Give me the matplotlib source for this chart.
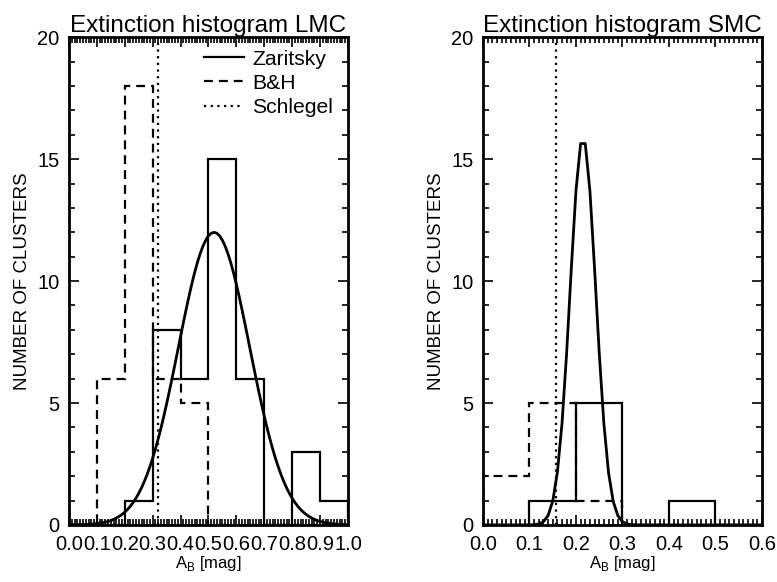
import numpy as np
import matplotlib
matplotlib.use('Agg')
import matplotlib.pyplot as plt
from matplotlib.ticker import MultipleLocator, FormatStrFormatter

plt.rcParams['font.family'] = ['Liberation Sans', 'DejaVu Sans']
plt.rcParams['mathtext.fontset'] = 'custom'
plt.rcParams['mathtext.rm'] = 'Liberation Sans'

# LMC histograms (bins of 0.1 mag)
lmc_edges = [0.0, 0.1, 0.2, 0.3, 0.4, 0.5, 0.6, 0.7, 0.8, 0.9, 1.0]
lmc_zaritsky = [0, 0, 1, 8, 6, 15, 6, 0, 3, 1]
lmc_bh = [0, 6, 18, 6, 5, 0, 0, 0, 0, 0]
lmc_schlegel = 0.32
# Gaussian fit to the Zaritsky LMC values: amplitude, mean, sigma
lmc_fit = (12.0, 0.52, 0.128)

# SMC histograms
smc_edges = [0.0, 0.1, 0.2, 0.3, 0.4, 0.5, 0.6]
smc_zaritsky = [0, 1, 5, 0, 1, 0]
smc_bh = [2, 5, 1, 0, 0, 0]
smc_schlegel = 0.158
smc_fit = (15.9, 0.215, 0.0275)

fig = plt.figure(figsize=(7.77, 5.82), dpi=100)
ax1 = fig.add_axes([0.0888, 0.098, 0.359, 0.838])
ax2 = fig.add_axes([0.6216, 0.098, 0.359, 0.838])

fs = 14.5


def draw(ax, edges, zar, bh, schl, fit, title, xmax):
    amp, mu, sig = fit
    xg = np.arange(0.0, xmax + 0.0001, 0.01)
    yg = amp * np.exp(-0.5 * ((xg - mu) / sig) ** 2)
    ax.stairs(zar, edges, color='black', lw=1.6, label='Zaritsky')
    ax.stairs(bh, edges, color='black', lw=1.6, linestyle=(0, (4, 2.7)),
              label='B&H')
    ax.axvline(schl, color='black', lw=1.6, linestyle=(0, (1, 2)),
               label='Schlegel')
    ax.plot(xg, yg, color='black', lw=2)
    ax.set_xlim(0, xmax)
    ax.set_ylim(0, 20)
    ax.xaxis.set_major_locator(MultipleLocator(0.1))
    ax.xaxis.set_minor_locator(MultipleLocator(0.01))
    ax.xaxis.set_major_formatter(FormatStrFormatter('%.1f'))
    ax.yaxis.set_major_locator(MultipleLocator(5))
    ax.yaxis.set_minor_locator(MultipleLocator(1))
    ax.tick_params(which='both', direction='in', top=True, right=True,
                   labelsize=fs, width=1.2, pad=7)
    ax.tick_params(which='major', length=7)
    ax.tick_params(which='minor', length=4)
    for s in ax.spines.values():
        s.set_linewidth(2)
    ax.set_title(title, fontsize=17.5, pad=4)
    ax.set_ylabel('NUMBER OF CLUSTERS', fontsize=13.5, labelpad=4.5)
    ax.set_xlabel(r'A$_\mathregular{B}$ [mag]', fontsize=12, labelpad=0)


draw(ax1, lmc_edges, lmc_zaritsky, lmc_bh, lmc_schlegel, lmc_fit,
     'Extinction histogram LMC', 1.0)
draw(ax2, smc_edges, smc_zaritsky, smc_bh, smc_schlegel, smc_fit,
     'Extinction histogram SMC', 0.6)

ax1.legend(loc='upper right', bbox_to_anchor=(0.955, 0.979), frameon=False,
           fontsize=15.2, handlelength=1.9, handletextpad=0.4,
           labelspacing=0.25, borderaxespad=0, borderpad=0.1)

fig.savefig('out.png', dpi=100)
